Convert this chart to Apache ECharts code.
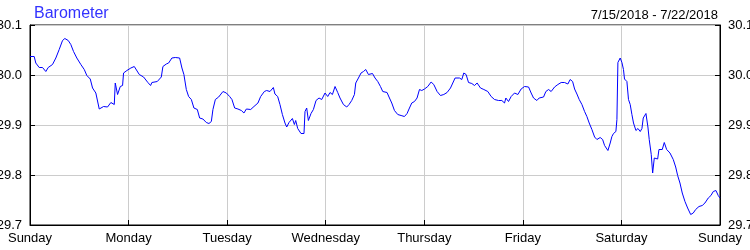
<!DOCTYPE html>
<html>
<head>
<meta charset="utf-8">
<script src="https://cdn.jsdelivr.net/npm/echarts@6/dist/echarts.min.js"></script>
<style>
html,body{margin:0;padding:0;background:#fff;}
#chart{width:750px;height:250px;}
</style>
</head>
<body>
<div id="chart"></div>
<script>
// Hours since Sunday 00:00 (7/15/2018)
var hours = [
0,1.02,1.41,2.24,3.05,3.85,4.43,5.48,6.29,7.11,7.92,8.48,9.31,9.94,10.6,11.4,12.38,13.21,13.84,14.67,15.23,16.03,16.86,17.91,18.88,19.69,20.52,20.76,21.15,21.32,21.98,22.54,22.78,23.59,24.56,25.39,25.78,26.61,27.65,
28.70,29.36,29.68,30.99,31.97,32.36,33.19,33.75,34.55,35.38,36.43,36.99,37.47,38.06,38.62,39.28,39.91,40.74,41.30,42.10,42.93,43.57,44.15,44.54,45.13,45.93,46.98,47.81,48.61,49.17,49.83,50.63,51.46,52.09,52.68,53.73,54.53,55.50,56.16,
56.40,57.06,57.62,58.43,59.25,59.64,60.30,60.86,61.45,62.08,62.50,63.06,63.89,64.37,64.69,65.18,65.98,66.71,66.96,67.37,67.78,68.42,69.00,69.64,70.37,71.03,71.83,72.49,73.05,73.63,74.27,74.92,75.48,76.31,77.12,77.68,78.33,78.99,79.31,79.97,80.60,81.19,81.75,82.40,83.38,84.01,
84.67,85.33,85.89,86.93,87.52,88.08,88.74,89.54,90.35,91.17,91.81,92.39,92.95,93.61,94.24,94.83,95.39,96.05,96.85,97.66,98.31,99.12,99.94,100.75,101.55,102.38,102.94,103.50,104.57,105.13,105.62,106.18,106.77,107.57,108.23,108.86,109.69,110.50,111.47,112.28,
113.10,114.08,114.88,115.54,115.86,116.51,117.15,117.98,118.78,119.58,120.41,121.39,122.02,122.60,123.41,123.97,125.04,125.60,126.26,126.89,127.72,128.53,129.33,130.16,130.96,131.52,132.11,132.60,133.16,133.72,134.38,135.03,135.59,136.15,136.81,137.47,138.03,138.83,139.42,139.90,140.71,141.27,141.68,
142.07,142.65,142.90,143.14,143.70,144.12,144.50,144.75,145.33,145.72,146.14,146.55,146.94,147.53,148.02,148.58,148.99,149.31,149.97,150.45,150.77,151.26,151.60,152.00,152.82,153.14,153.94,154.43,155.01,155.82,156.62,157.21,157.69,158.25,158.81,159.47,160.12,160.86,161.49,162.07,162.88,163.68,164.33,165.14,165.80,166.36,167.01,167.57,168.0
];
// Barometric pressure (inHg)
var pressure = [
30.037,30.037,30.024,30.015,30.015,30.007,30.015,30.021,30.034,30.051,30.069,30.073,30.069,30.061,30.047,30.034,30.021,30.011,29.999,29.992,29.974,29.964,29.932,29.937,29.936,29.945,29.941,29.984,29.985,29.961,29.977,29.979,30.004,30.009,30.014,30.017,30.014,30.001,29.996,
29.985,29.979,29.985,29.987,29.996,30.017,30.022,30.024,30.034,30.035,30.034,30.014,30.001,29.971,29.957,29.951,29.934,29.931,29.914,29.912,29.905,29.903,29.907,29.931,29.951,29.956,29.967,29.964,29.957,29.951,29.934,29.932,29.929,29.924,29.932,29.931,29.937,29.944,29.957,
29.959,29.967,29.969,29.967,29.975,29.962,29.957,29.941,29.921,29.904,29.896,29.905,29.913,29.901,29.909,29.893,29.883,29.883,29.927,29.934,29.909,29.923,29.931,29.949,29.954,29.951,29.964,29.957,29.965,29.961,29.977,29.965,29.954,29.941,29.936,29.941,29.949,29.961,29.984,29.994,30.004,30.007,30.011,30.001,30.003,29.994,
29.987,29.977,29.967,29.965,29.954,29.944,29.929,29.921,29.919,29.917,29.923,29.934,29.944,29.947,29.954,29.971,29.969,29.972,29.977,29.986,29.981,29.967,29.959,29.961,29.965,29.974,29.984,29.994,29.994,29.991,30.004,30.001,29.985,29.983,29.979,29.984,29.974,29.971,29.967,29.957,
29.951,29.949,29.949,29.944,29.954,29.947,29.957,29.964,29.961,29.972,29.977,29.976,29.964,29.954,29.949,29.954,29.956,29.967,29.971,29.967,29.976,29.981,29.985,29.985,29.982,29.991,29.987,29.972,29.962,29.951,29.941,29.927,29.917,29.904,29.891,29.876,29.871,29.875,29.871,29.859,29.849,29.864,29.877,
29.883,29.887,29.911,30.025,30.034,30.025,30.011,29.992,29.987,29.951,29.941,29.921,29.904,29.889,29.893,29.887,29.893,29.914,29.923,29.896,29.871,29.841,29.804,29.834,29.832,29.851,29.851,29.865,29.851,29.844,29.831,29.816,29.799,29.784,29.764,29.747,29.734,29.721,29.724,29.731,29.737,29.739,29.744,29.754,29.759,29.767,29.769,29.759,29.754
];
var dayLabels = ['Sunday','Monday','Tuesday','Wednesday','Thursday','Friday','Saturday','Sunday'];
var titleText = 'Barometer';
var dateRangeText = '7/15/2018 - 7/22/2018';
var yMin = 29.7, yMax = 30.1, yStep = 0.1;

var seriesData = hours.map(function (h, i) { return [h, pressure[i]]; });

var chart = echarts.init(document.getElementById('chart'), null, {renderer: 'canvas'});
var fontFam = '"Liberation Sans", Arial, sans-serif';
function yAxisDef(pos, margin) {
  return {
    type: 'value', position: pos, min: yMin, max: yMax, interval: yStep,
    axisLine: {show: true, lineStyle: {color: '#000', width: 1}},
    axisTick: {show: true, inside: true, length: 5, lineStyle: {color: '#000'}},
    splitLine: {show: pos === 'left', lineStyle: {color: '#cccccc', width: 1}},
    axisLabel: {color: '#000', fontSize: 13, fontFamily: fontFam, margin: margin,
      formatter: function (v) { return v.toFixed(1); }}
  };
}
chart.setOption({
  animation: false,
  backgroundColor: '#fff',
  title: [
    {text: titleText, left: 29, top: 1, textStyle: {color: '#3232ff', fontSize: 16, fontWeight: 'normal', fontFamily: fontFam}},
    {text: dateRangeText, right: 27, top: 4, textStyle: {color: '#000', fontSize: 13, fontWeight: 'normal', fontFamily: fontFam}}
  ],
  grid: {left: 30, right: 30, top: 25, height: 200, containLabel: false, outerBoundsMode: 'none',
    show: true, borderColor: '#000', borderWidth: 1, backgroundColor: 'transparent'},
  xAxis: {
    type: 'value', min: 0, max: 168, interval: 24,
    axisLine: {show: true, lineStyle: {color: '#000', width: 1}},
    axisTick: {show: true, inside: true, length: 5, lineStyle: {color: '#000'}},
    splitLine: {show: true, lineStyle: {color: '#cccccc', width: 1}},
    axisLabel: {color: '#000', fontSize: 13, fontFamily: fontFam, margin: 7, showMinLabel: true, showMaxLabel: true,
      formatter: function (v) { return dayLabels[Math.round(v / 24)]; }}
  },
  yAxis: [yAxisDef('left', 8), yAxisDef('right', 8)],
  series: [{
    type: 'line', data: seriesData, showSymbol: false, symbol: 'none',
    lineStyle: {color: '#0000ff', width: 1}, itemStyle: {color: '#0000ff'}
  }]
});
</script>
</body>
</html>
